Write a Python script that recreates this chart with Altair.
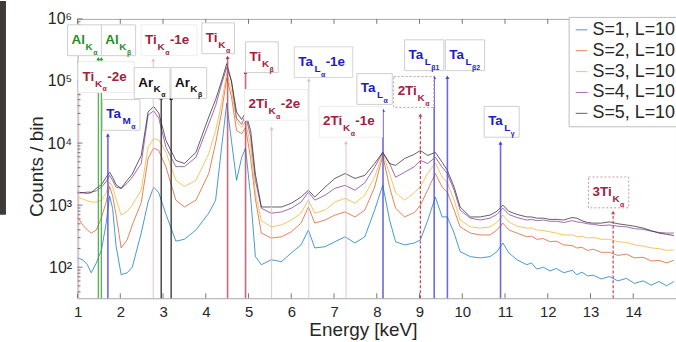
import altair as alt
import pandas as pd

# ---------------- geometry of the plot area ----------------
W, H = 602, 281
XMIN, XMAX = 1.0, 15.0
LOGMIN, LOGMAX = 1.5, 6.0
PPK = W / (XMAX - XMIN)          # pixels per keV
PPD = H / (LOGMAX - LOGMIN)      # pixels per decade
YMIN, YMAX = 10 ** LOGMIN, 10 ** LOGMAX

# ---------------- spectra (log10 of counts/bin) ----------------
ENERGY = [1.0, 1.12, 1.23, 1.32, 1.44, 1.56, 1.67, 1.75, 1.82, 1.9,
          2.02, 2.16, 2.28, 2.49, 2.65, 2.78, 2.9, 3.07, 3.3, 3.5,
          3.77, 4.07, 4.23, 4.37, 4.49, 4.6, 4.72, 4.84, 4.93, 5.05,
          5.16, 5.3, 5.53, 5.77, 6.0, 6.23, 6.4, 6.55, 6.79, 7.02,
          7.26, 7.49, 7.72, 7.95, 8.14, 8.3, 8.44, 8.65, 8.88, 9.02,
          9.19, 9.37, 9.53, 9.65, 9.81, 9.95, 10.19, 10.42, 10.65, 10.81,
          10.95, 11.09,
          11.28, 11.51, 11.62, 11.74, 11.9, 12.05, 12.2, 12.37, 12.57, 12.68,
          12.8, 12.93, 13.07, 13.25, 13.44, 13.64, 13.84, 14.03, 14.23, 14.42,
          14.6, 14.78, 14.95]

LOG_S1 = [2.15, 2.12, 2.04, 1.91, 2.07, 2.28, 2.71, 3.15, 2.95, 2.35,
          1.88, 1.91, 2.0, 2.55, 3.05, 3.29, 3.2, 2.85, 2.42, 2.45,
          2.60, 2.87, 3.08, 3.93, 4.64, 4.04, 3.40, 3.77, 3.92, 3.13,
          2.17, 2.04, 2.12, 2.09, 2.23, 2.36, 2.60, 2.31, 2.33, 2.41,
          2.49, 2.39, 2.49, 2.92, 3.32, 2.76, 2.41, 2.36, 2.39, 2.44,
          2.75, 3.13, 2.81, 2.81, 2.55, 2.25, 2.17, 2.15, 2.17, 2.25,
          2.39, 2.23,
          2.12, 2.04, 2.07, 1.97, 2.0, 1.94, 1.98, 1.91, 1.95, 1.88,
          1.92, 1.86, 1.87, 1.81, 1.85, 1.78, 1.82, 1.74, 1.78, 1.71,
          1.77, 1.70, 1.77]
LOG_S2 = [2.81, 2.68, 2.60, 2.55, 2.60, 2.80, 3.05, 3.30, 3.15, 2.85,
          2.31, 2.44, 2.68, 3.04, 3.75, 3.92, 3.88, 3.61, 3.08, 2.97,
          3.08, 3.51, 4.0, 4.5, 5.05, 4.75, 4.2, 4.15, 4.25, 3.75,
          3.1, 2.55, 2.47, 2.49, 2.57, 2.71, 2.97, 2.71, 2.76, 2.84,
          2.89, 2.81, 2.92, 3.29, 3.80, 3.29, 2.95, 2.81, 2.88, 3.0,
          3.24, 3.51, 3.29, 3.21, 2.92, 2.65, 2.55, 2.52, 2.52, 2.60,
          2.71, 2.60,
          2.55, 2.49, 2.50, 2.45, 2.46, 2.41, 2.42, 2.36, 2.35, 2.31,
          2.32, 2.27, 2.29, 2.24, 2.24, 2.19, 2.21, 2.15, 2.16, 2.10,
          2.11, 2.07, 2.11]
LOG_S3 = [3.13, 3.10, 3.07, 3.05, 3.05, 3.08, 3.20, 3.37, 3.30, 3.10,
          2.84, 2.90, 3.0, 3.24, 3.93, 4.07, 4.05, 3.85, 3.40, 3.30,
          3.40, 3.83, 4.2, 4.65, 5.12, 4.85, 4.35, 4.25, 4.35, 3.95,
          3.2, 2.75, 2.65, 2.68, 2.76, 2.87, 3.08, 2.87, 2.92, 3.05,
          3.11, 3.03, 3.16, 3.45, 3.83, 3.51, 3.20, 3.08, 3.20, 3.30,
          3.51, 3.68, 3.45, 3.36, 3.08, 2.76, 2.65, 2.63, 2.65, 2.72,
          2.84, 2.73,
          2.66, 2.63, 2.63, 2.60, 2.59, 2.57, 2.55, 2.52, 2.52, 2.49,
          2.50, 2.47, 2.48, 2.45, 2.45, 2.41, 2.40, 2.36, 2.34, 2.31,
          2.30, 2.27, 2.28]
LOG_S4 = [3.19, 3.20, 3.21, 3.21, 3.23, 3.29, 3.38, 3.48, 3.40, 3.29,
          3.27, 3.35, 3.45, 3.67, 4.45, 4.52, 4.40, 3.93, 3.62, 3.62,
          3.77, 4.31, 4.6, 4.95, 5.22, 5.0, 4.4, 4.3, 4.45, 4.1,
          3.4, 2.95, 2.87, 2.89, 2.95, 3.05, 3.21, 3.08, 3.16, 3.27,
          3.32, 3.24, 3.36, 3.61, 3.85, 3.67, 3.45, 3.53, 3.62, 3.72,
          3.67, 3.77, 3.61, 3.51, 3.24, 2.92, 2.79, 2.76, 2.79, 2.85,
          2.95, 2.85,
          2.80, 2.76, 2.77, 2.75, 2.76, 2.74, 2.74, 2.72, 2.75, 2.73,
          2.72, 2.70, 2.69, 2.67, 2.68, 2.66, 2.65, 2.62, 2.61, 2.58,
          2.56, 2.55, 2.55]
LOG_S5 = [3.21, 3.20, 3.19, 3.20, 3.27, 3.33, 3.45, 3.53, 3.45, 3.33,
          3.27, 3.40, 3.50, 3.80, 4.50, 4.59, 4.48, 4.04, 3.72, 3.67,
          3.85, 4.42, 4.7, 5.0, 5.28, 5.0, 4.5, 4.38, 4.49, 4.2,
          3.5, 2.97, 2.97, 2.97, 3.03, 3.13, 3.24, 3.13, 3.29, 3.43,
          3.51, 3.43, 3.48, 3.67, 3.85, 3.67, 3.64, 3.75, 3.82, 3.88,
          3.80, 3.85, 3.69, 3.56, 3.29, 2.97, 2.81, 2.81, 2.84, 2.90,
          3.0, 2.90,
          2.85, 2.81, 2.81, 2.79, 2.79, 2.77, 2.77, 2.76, 2.80, 2.79,
          2.75, 2.72, 2.71, 2.71, 2.73, 2.70, 2.68, 2.66, 2.63, 2.59,
          2.55, 2.53, 2.51]

SERIES = ["S=1, L=10", "S=2, L=10", "S=3, L=10", "S=4, L=10", "S=5, L=10"]
COLORS = ["#0072BD", "#D95319", "#EDB120", "#7E2F8E", "#222222"]

# ---------------- line annotations ----------------
ANN_E = [1.487, 1.557, 1.03, 2.77, 2.957, 3.19, 1.71, 4.51, 4.93, 6.41,
         5.54, 7.28, 8.146, 9.02, 9.343, 9.652, 10.895, 13.53]
ANN_TOP_LOG = [5.36, 5.36, 4.80, 5.34, 4.73, 4.72, 4.13, 5.38, 5.14, 5.02,
               4.24, 4.01, 4.53, 4.45, 5.06, 5.06, 4.00, 2.88]
ANN_MAIN = ["Al", "Al", "Ti", "Ti", "Ar", "Ar", "Ta", "Ti", "Ti", "Ta",
            "2Ti", "2Ti", "Ta", "2Ti", "Ta", "Ta", "Ta", "3Ti"]
ANN_SUB = ["K", "K", "K", "K", "K", "K", "M", "K", "K", "L",
           "K", "K", "L", "K", "L", "L", "L", "K"]
ANN_SUBSUB = ["α", "β", "α", "α", "α", "β", "α", "α", "β", "α",
              "α", "α", "α", "α", "β1", "β2", "γ", "α"]
ANN_SUFFIX = ["", "", " -2e", " -1e", "", "", "", "", "", " -1e",
              " -2e", " -1e", "", "", "", "", "", ""]
ANN_LABEL_E = [0.86, 1.651, 1.116, 2.581, 2.419, 3.279, 1.674, 4.0, 5.023, 6.163,
               5.0, 6.744, 7.628, 8.488, 8.744, 9.698, 10.605, 13.047]
ANN_LABEL_LOG = [5.60, 5.60, 5.007, 5.60, 4.911, 4.911, 4.398, 5.632, 5.327, 5.247,
                 4.559, 4.286, 4.815, 4.767, 5.359, 5.359, 4.286, 3.149]
ANN_KIND = ["al", "al", "ti_esc", "ti_esc", "ar", "ar", "ta", "ti", "ti", "ta_esc",
            "ti_esc", "ti_esc", "ta", "ti_dash", "ta", "ta", "ta", "ti_dash"]

STYLE = {  # line colour, line opacity, line width, text colour, box stroke, box kind
    "al": ("#2e9e2e", 0.8, 1.3, "#1f8f1f", "#cfcfcf", "solid"),
    "ar": ("#1a1a1a", 0.9, 1.3, "#111111", "#cfcfcf", "solid"),
    "ta": ("#4646d2", 0.8, 1.6, "#1c1cc4", "#cfcfcf", "solid"),
    "ti": ("#b03a55", 0.75, 1.6, "#a3213f", "#cfcfcf", "solid"),
    "ti_esc": ("#e3bcc6", 0.9, 1.0, "#a3213f", "#ededed", "solid"),
    "ta_esc": ("#c6c6f0", 0.9, 1.0, "#1c1cc4", "#d6d6d6", "solid"),
    "ti_dash": ("#c0415e", 0.9, 1.2, "#a3213f", "#c99aa5", "dash"),
}

CW = {"A": 0.722, "l": 0.278, "T": 0.611, "i": 0.278, "a": 0.556, "r": 0.389,
      "2": 0.556, "3": 0.556, "K": 0.722, "M": 0.833, "L": 0.611, " ": 0.278,
      "-": 0.333, "1": 0.556, "e": 0.556, "α": 0.6, "β": 0.6, "γ": 0.55}


def tw(s, size):
    return sum(CW.get(c, 0.6) for c in s) * size


FS_MAIN, FS_SUB, FS_SS = 13.5, 10, 7

# ---------------- build tables ----------------
rows = []
for name, logs in zip(SERIES, [LOG_S1, LOG_S2, LOG_S3, LOG_S4, LOG_S5]):
    for e, l in zip(ENERGY, logs):
        rows.append({"energy": e, "counts": 10 ** l, "series": name})
spec = pd.DataFrame(rows)

ann = []
for i in range(len(ANN_E)):
    lc, lo, lw, tc, bs, bk = STYLE[ANN_KIND[i]]
    lx, ly = ANN_LABEL_E[i], ANN_LABEL_LOG[i]
    sub_x = lx + (tw(ANN_MAIN[i], FS_MAIN) + 0.5) / PPK
    ss_x = sub_x + (tw(ANN_SUB[i], FS_SUB) + 0.5) / PPK
    suf_x = ss_x + (tw(ANN_SUBSUB[i], FS_SS) + 0.5) / PPK
    right = suf_x + (tw(ANN_SUFFIX[i], FS_MAIN) + 4) / PPK
    ann.append({
        "e": ANN_E[i], "ybot": YMIN, "ytop": 10 ** ANN_TOP_LOG[i],
        "lc": lc, "lo": lo, "lw": lw, "tc": tc, "bs": bs, "bk": bk,
        "dash": ANN_KIND[i] == "ti_dash",
        "main": ANN_MAIN[i], "sub": ANN_SUB[i], "ss": ANN_SUBSUB[i], "suf": ANN_SUFFIX[i],
        "lx": lx, "ly": 10 ** ly,
        "sub_x": sub_x, "sub_y": 10 ** (ly - 6 / PPD),
        "ss_x": ss_x, "ss_y": 10 ** (ly - 11 / PPD),
        "suf_x": suf_x,
        "bx": lx - 4 / PPK, "bx2": right,
        "by": 10 ** (ly + 19 / PPD), "by2": 10 ** (ly - 12 / PPD),
    })
ann = pd.DataFrame(ann)

# inward axis ticks
ticks = []
for e in range(1, 15):
    ticks.append({"x": e, "x2": e, "y": YMIN, "y2": YMIN * 10 ** (5 / PPD)})
    ticks.append({"x": e, "x2": e, "y": YMAX, "y2": YMAX / 10 ** (5 / PPD)})
for d in range(2, 7):
    ticks.append({"x": XMIN, "x2": XMIN + 5 / PPK, "y": 10 ** d, "y2": 10 ** d})
for d in range(1, 6):
    for m in range(2, 10):
        v = m * 10 ** d
        if YMIN < v < YMAX:
            ticks.append({"x": XMIN, "x2": XMIN + 3 / PPK, "y": v, "y2": v})
ticks = pd.DataFrame(ticks)

# ---------------- scales / axes ----------------
FONT = "Liberation Sans"
xs = alt.Scale(domain=[XMIN, XMAX], nice=False, zero=False)
ys = alt.Scale(type="log", domain=[YMIN, YMAX], nice=False)

x_axis = alt.Axis(values=list(range(1, 15)), title="Energy [keV]", grid=False, ticks=False,
                  domain=False, labelFontSize=15, labelFont=FONT, labelColor="#262626",
                  labelPadding=6, labelFlush=False, titleFontSize=19, titleFont=FONT,
                  titleFontWeight="normal", titleColor="#262626", titleX=287, titleY=22,
                  titleBaseline="top", titleAlign="center", titleAnchor="start")
y_expr = ("datum.value == 100 ? '10²' : datum.value == 1000 ? '10³' : "
          "datum.value == 10000 ? '10⁴' : datum.value == 100000 ? '10⁵' : "
          "datum.value == 1000000 ? '10⁶' : ''")
y_axis = alt.Axis(values=[100, 1000, 10000, 100000, 1000000], labelExpr=y_expr,
                  title="Counts / bin", grid=False, ticks=False, domain=False,
                  labelFontSize=16, labelFont=FONT, labelColor="#262626", labelPadding=6,
                  labelFlush=False, labelOverlap=False, titleFontSize=19, titleFont=FONT,
                  titleFontWeight="normal", titleColor="#262626", titleX=-41, titleY=148,
                  titleAngle=270, titleBaseline="middle", titleAlign="center",
                  titleAnchor="start")

base_ann = alt.Chart(ann)

lines = alt.Chart(spec).mark_line(strokeWidth=1, opacity=0.72).encode(
    x=alt.X("energy:Q", scale=xs, axis=x_axis),
    y=alt.Y("counts:Q", scale=ys, axis=y_axis),
    color=alt.Color("series:N", scale=alt.Scale(domain=SERIES, range=COLORS),
                    legend=alt.Legend(title=None, orient="none", legendX=494, legendY=-2,
                                      fillColor="white", strokeColor="#bdbdbd", padding=4,
                                      labelFontSize=18, labelFont=FONT, labelColor="#262626",
                                      symbolType="stroke", symbolSize=140, symbolStrokeWidth=1,
                                      symbolOpacity=0.7, rowPadding=3, labelOffset=2)),
    detail="series:N",
)

rule_solid = base_ann.transform_filter("!datum.dash").mark_rule().encode(
    x="e:Q", y="ybot:Q", y2="ytop:Q",
    stroke=alt.Stroke("lc:N", scale=None),
    strokeOpacity=alt.StrokeOpacity("lo:Q", scale=None),
    strokeWidth=alt.StrokeWidth("lw:Q", scale=None),
)
rule_dash = base_ann.transform_filter("datum.dash").mark_rule(strokeDash=[3, 2]).encode(
    x="e:Q", y="ybot:Q", y2="ytop:Q",
    stroke=alt.Stroke("lc:N", scale=None),
    strokeWidth=alt.StrokeWidth("lw:Q", scale=None),
)
arrows = base_ann.mark_point(shape="triangle-up", filled=True, size=16, opacity=1).encode(
    x="e:Q", y="ytop:Q", fill=alt.Fill("lc:N", scale=None),
)
box_solid = base_ann.transform_filter("datum.bk == 'solid'").mark_rect(
    fill="white", strokeWidth=1).encode(
    x="bx:Q", x2="bx2:Q", y="by:Q", y2="by2:Q", stroke=alt.Stroke("bs:N", scale=None))
box_dash = base_ann.transform_filter("datum.bk == 'dash'").mark_rect(
    fill="white", strokeWidth=1, strokeDash=[2, 2]).encode(
    x="bx:Q", x2="bx2:Q", y="by:Q", y2="by2:Q", stroke=alt.Stroke("bs:N", scale=None))

t_main = base_ann.mark_text(align="left", baseline="alphabetic", font=FONT,
                            fontWeight="bold", fontSize=FS_MAIN).encode(
    x="lx:Q", y="ly:Q", text="main:N", fill=alt.Fill("tc:N", scale=None))
t_sub = base_ann.mark_text(align="left", baseline="alphabetic", font=FONT,
                           fontWeight="bold", fontSize=FS_SUB).encode(
    x="sub_x:Q", y="sub_y:Q", text="sub:N", fill=alt.Fill("tc:N", scale=None))
t_ss = base_ann.mark_text(align="left", baseline="alphabetic", font=FONT,
                          fontWeight="bold", fontSize=FS_SS).encode(
    x="ss_x:Q", y="ss_y:Q", text="ss:N", fill=alt.Fill("tc:N", scale=None))
t_suf = base_ann.transform_filter("datum.suf != ''").mark_text(
    align="left", baseline="alphabetic", font=FONT, fontWeight="bold",
    fontSize=FS_MAIN).encode(
    x="suf_x:Q", y="ly:Q", text="suf:N", fill=alt.Fill("tc:N", scale=None))

tick_layer = alt.Chart(ticks).mark_rule(stroke="#777777", strokeWidth=1).encode(
    x="x:Q", x2="x2:Q", y="y:Q", y2="y2:Q")

dark_bar = alt.Chart(pd.DataFrame({"k": [0]})).mark_rect(color="#3d3a38").encode(
    x=alt.value(-78), x2=alt.value(-72), y=alt.value(-18), y2=alt.value(197))

chart = alt.layer(
    lines, rule_solid, rule_dash, arrows, tick_layer, box_solid, box_dash,
    t_main, t_sub, t_ss, t_suf, dark_bar,
).properties(
    width=W, height=H,
    autosize=alt.AutoSizeParams(type="none"),
    padding={"left": 78, "top": 18, "right": 0, "bottom": 43},
    background="white",
).configure_view(stroke="#a8a8a8", strokeWidth=1)

chart.save("out.html", embed_options={"renderer": "svg", "actions": False})
